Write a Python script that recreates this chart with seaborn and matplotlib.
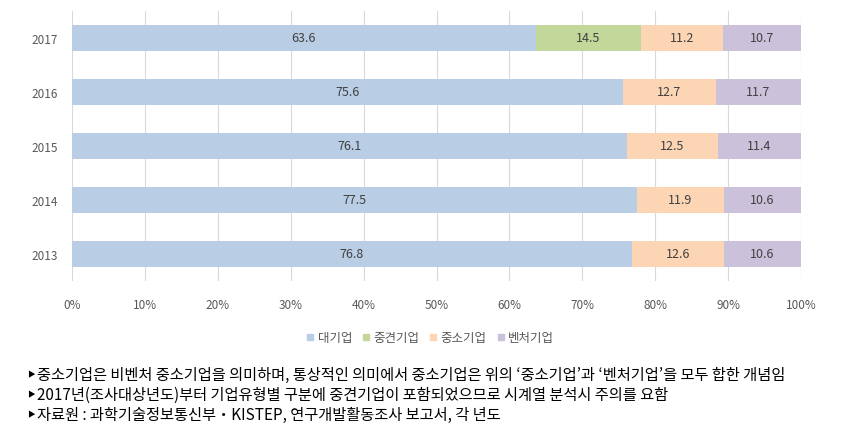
import numpy as np
import pandas as pd
import matplotlib
matplotlib.use("Agg")
import matplotlib.pyplot as plt
from matplotlib.lines import Line2D
import seaborn as sns

# data
years = ["2017", "2016", "2015", "2014", "2013"]
series_names = ["대기업", "중견기업", "중소기업", "벤처기업"]
large = [63.6, 75.6, 76.1, 77.5, 76.8]
middle = [14.5, 0.0, 0.0, 0.0, 0.0]   # 중견기업 only from 2017
small = [11.2, 12.7, 12.5, 11.9, 12.6]
venture = [10.7, 11.7, 11.4, 10.6, 10.6]
xticks = [0, 10, 20, 30, 40, 50, 60, 70, 80, 90, 100]
notes = [
    "중소기업은 비벤처 중소기업을 의미하며, 통상적인 의미에서 중소기업은 위의 ‘중소기업’과 ‘벤처기업’을 모두 합한 개념임",
    "2017년(조사대상년도)부터 기업유형별 구분에 중견기업이 포함되었으므로 시계열 분석시 주의를 요함",
    "자료원 : 과학기술정보통신부‧KISTEP, 연구개발활동조사 보고서, 각 년도",
]

colors = ["#B9CDE5", "#C4D79B", "#FCD5B5", "#CCC1DA"]

sns.set_theme(style="white")
plt.rcParams['font.family'] = ['Noto Sans CJK KR', 'DejaVu Sans']

df = pd.DataFrame({"year": years, "대기업": large, "중견기업": middle,
                   "중소기업": small, "벤처기업": venture})
cum = df[series_names].cumsum(axis=1)

fig = plt.figure(figsize=(8.58, 4.35), dpi=100)
ax = fig.add_axes([72 / 858, 1 - 282 / 435, (801 - 72) / 858, 270 / 435])

# stacked bars: draw cumulative totals from the back
for name, col in reversed(list(zip(series_names, colors))):
    sns.barplot(x=cum[name], y=df["year"], color=col, orient="h",
                width=0.48, saturation=1, ax=ax, zorder=2, linewidth=0)

# segment labels
for i in range(len(years)):
    start = 0
    for name in series_names:
        v = df[name][i]
        if v > 0:
            ax.text(start + v / 2, i, f"{v:.1f}", ha="center", va="center",
                    fontsize=9, color="#404040", zorder=3)
        start += v

ax.set_xlim(0, 100)
ax.set_ylim(4.5, -0.5)
ax.set_xticks(xticks)
ax.set_xticklabels([f"{t}%" for t in xticks])
ax.tick_params(axis="x", labelsize=8.5, colors="#595959", pad=12, length=0)
ax.tick_params(axis="y", labelsize=8.5, colors="#595959", pad=10, length=0)
ax.set_xlabel("")
ax.set_ylabel("")
ax.grid(axis="x", color="#D9D9D9", linewidth=0.8, zorder=0)
ax.set_axisbelow(True)
for s in ax.spines.values():
    s.set_visible(False)

handles = [Line2D([0], [0], marker="s", color="none", markerfacecolor=c,
                  markeredgecolor=c, markersize=5) for c in colors]
fig.legend(handles, series_names, loc="center", bbox_to_anchor=(0.500, 1 - 339 / 435),
           ncol=4, frameon=False, fontsize=9, handletextpad=0.1, columnspacing=0.6,
           labelcolor="#595959", handlelength=1)

note_y = [375, 395, 415]
for y, t in zip(note_y, notes):
    fig.text(27 / 858, 1 - y / 435, "▶", fontsize=5.5, va="center", color="black")
    fig.text(37 / 858, 1 - y / 435, t, fontsize=11, va="center", color="black")

fig.savefig("out.png", dpi=100)
